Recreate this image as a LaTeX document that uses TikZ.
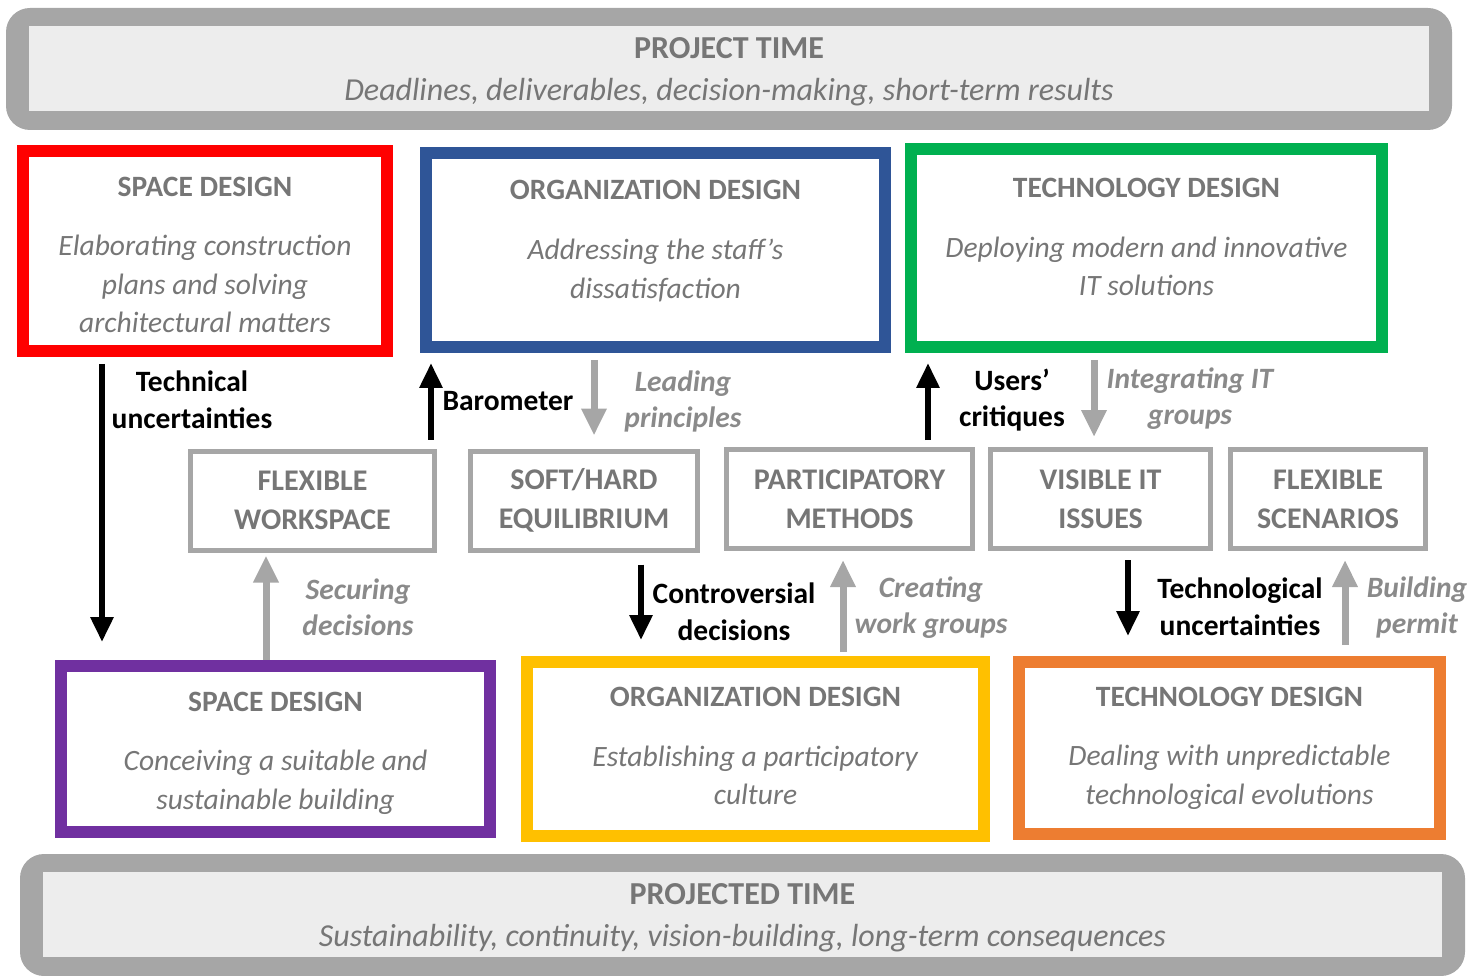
\documentclass[tikz,border=0pt]{standalone}
\usepackage{fontspec}
\setmainfont{Carlito}
\usepackage{tikz}
\usetikzlibrary{arrows.meta,positioning}
\definecolor{spacered}{HTML}{FF0000}
\definecolor{orgblue}{HTML}{2F5597}
\definecolor{techgreen}{HTML}{00B050}
\definecolor{spacepurple}{HTML}{7030A0}
\definecolor{orgyellow}{HTML}{FFC000}
\definecolor{techorange}{HTML}{ED7D31}
\definecolor{boxgray}{HTML}{A6A6A6}
\definecolor{bandfill}{HTML}{EDEDED}
\definecolor{titlegray}{HTML}{767676}
\definecolor{labelgray}{HTML}{8A8A8A}

\begin{document}
\begin{tikzpicture}[x=1pt, y=-1pt,
band/.style={fill=boxgray, rounded corners=24pt, minimum height=122pt, align=center, text=titlegray, font=\fontsize{32}{42}\selectfont,
  path picture={\fill[bandfill, sharp corners] ([xshift=23pt,yshift=-18pt]path picture bounding box.north west) rectangle ([xshift=-23pt,yshift=19pt]path picture bounding box.south east);}},
design/.style={draw, line width=12pt, inner sep=0pt, align=center, text=titlegray, font=\fontsize{29.5}{38.5}\selectfont},
issue/.style={draw=boxgray, line width=5pt, inner sep=0pt, minimum height=99pt, align=center, text=titlegray, font=\bfseries\fontsize{30}{39}\selectfont},
blk/.style={line width=6pt, -{Triangle[width=22pt,length=25pt]}},
gry/.style={line width=7pt, boxgray, -{Triangle[width=24pt,length=27pt]}},
lblk/.style={align=center, font=\bfseries\fontsize{29.5}{36.5}\selectfont},
lgry/.style={align=center, text=labelgray, font=\bfseries\itshape\fontsize{29.5}{36}\selectfont}
]
\useasboundingbox (0,0) rectangle (1484,976);
%Bands
\node[band, minimum width=1446pt] (project)   at (729,69)    {\rule{0pt}{26pt}\textbf{PROJECT TIME}\\\textit{Deadlines, deliverables, decision-making, short-term results}};
\node[band, minimum width=1445pt] (projected) at (742.5,915) {\rule{0pt}{26pt}\textbf{PROJECTED TIME}\\\textit{Sustainability, continuity, vision-building, long-term consequences}};
%Nodes
\node[design, draw=spacered,    minimum width=364pt, minimum height=200pt] (spaceA) at (205,251)    {\rule{0pt}{27pt}\textbf{SPACE DESIGN}\\[21pt]\textit{Elaborating construction}\\\textit{plans and solving}\\\textit{architectural matters}};
\node[design, draw=orgblue,     minimum width=459pt, minimum height=194pt] (orgA)   at (655.5,250)  {\textbf{ORGANIZATION DESIGN}\\[22pt]\textit{Addressing the staff’s}\\\textit{dissatisfaction}\rule[-22pt]{0pt}{0pt}};
\node[design, draw=techgreen,   minimum width=471pt, minimum height=198pt] (techA)  at (1146.5,248) {\textbf{TECHNOLOGY DESIGN}\\[21pt]\textit{Deploying modern and innovative}\\\textit{IT solutions}\rule[-22pt]{0pt}{0pt}};
\node[design, draw=spacepurple, minimum width=429pt, minimum height=166pt] (spaceB) at (275.5,749)  {\rule{0pt}{28pt}\textbf{SPACE DESIGN}\\[21pt]\textit{Conceiving a suitable and}\\\textit{sustainable building}};
\node[design, draw=orgyellow,   minimum width=457pt, minimum height=174pt] (orgB)   at (755.5,749)  {\textbf{ORGANIZATION DESIGN}\\[21pt]\textit{Establishing a participatory}\\\textit{culture}\rule[-6pt]{0pt}{0pt}};
\node[design, draw=techorange,  minimum width=421pt, minimum height=172pt] (techB)  at (1229.5,748) {\textbf{TECHNOLOGY DESIGN}\\[21pt]\textit{Dealing with unpredictable}\\\textit{technological evolutions}\rule[-4pt]{0pt}{0pt}};

\node[issue, minimum width=244pt] (flexws)   at (312.5,500.5) {FLEXIBLE\\WORKSPACE};
\node[issue, minimum width=227pt] (softhard) at (584,500.5)   {SOFT/HARD\\EQUILIBRIUM};
\node[issue, minimum width=246pt] (partic)   at (849.5,499)   {PARTICIPATORY\\METHODS};
\node[issue, minimum width=220pt] (visit)    at (1100.5,499)  {VISIBLE IT\\ISSUES};
\node[issue, minimum width=195pt] (flexsc)   at (1328,499)    {FLEXIBLE\\SCENARIOS};
%Lines
\draw[blk, shorten <=7pt,  shorten >=18pt] ([xshift=-103pt]spaceA.south) -- ([xshift=-173.5pt]spaceB.north);
\draw[blk, shorten <=9pt,  shorten >=10pt] ([xshift=118.5pt]flexws.north) -- ([xshift=-224.5pt]orgA.south);
\draw[gry, shorten <=7pt,  shorten >=13pt] ([xshift=-61.5pt]orgA.south) -- ([xshift=10pt]softhard.north);
\draw[blk, shorten <=7pt,  shorten >=10pt] ([xshift=78.5pt]partic.north) -- ([xshift=-218.5pt]techA.south);
\draw[gry, shorten <=7pt,  shorten >=10pt] ([xshift=-52.5pt]techA.south) -- ([xshift=-6.5pt]visit.north);
\draw[gry, shorten >=3pt]                  ([xshift=-9.5pt]spaceB.north) -- ([xshift=-46.5pt]flexws.south);
\draw[blk, shorten <=12pt, shorten >=16pt] ([xshift=57pt]softhard.south) -- ([xshift=-114.5pt]orgB.north);
\draw[gry, shorten <=4pt,  shorten >=9pt]  ([xshift=87.5pt]orgB.north) -- ([xshift=-6.5pt]partic.south);
\draw[blk, shorten <=9pt,  shorten >=20pt] ([xshift=27.5pt]visit.south) -- ([xshift=-101.5pt]techB.north);
\draw[gry, shorten <=11pt, shorten >=9pt]  ([xshift=115.5pt]techB.north) -- ([xshift=17pt]flexsc.south);
%Labels
\node[lblk] (technical)   at (192,400)  {Technical\\uncertainties};
\node[lblk] (barometer)   at (508,401)  {Barometer};
\node[lgry] (leading)     at (683,401)  {Leading\\principles};
\node[lblk] (critiques)   at (1012,400) {Users’\\critiques};
\node[lgry] (integrating) at (1190,399) {Integrating IT\\groups};
\node[lgry] (securing)    at (358,607)  {Securing\\decisions};
\node[lblk] (controv)     at (734,612)  {Controversial\\decisions};
\node[lgry] (creating)    at (931,608)  {Creating\\work groups};
\node[lblk] (technolog)   at (1240,607) {Technological\\uncertainties};
\node[lgry] (building)    at (1417,607) {Building\\permit};
\end{tikzpicture}
\end{document}
